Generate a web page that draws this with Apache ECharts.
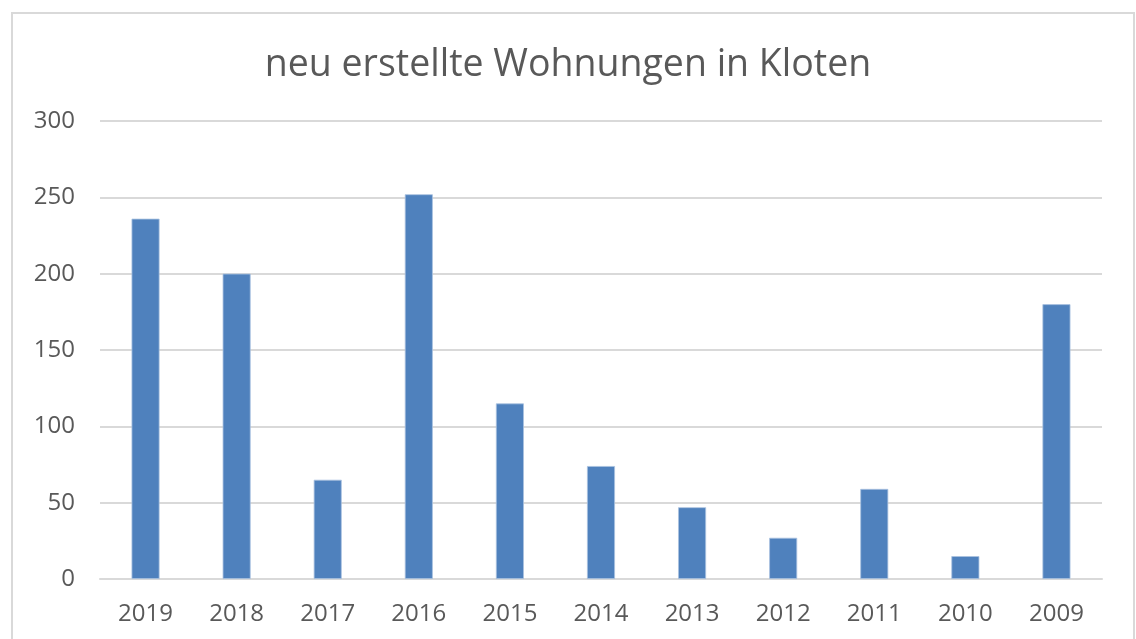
<!DOCTYPE html>
<html>
<head>
<meta charset="utf-8">
<script src="https://cdn.jsdelivr.net/npm/echarts@6/dist/echarts.min.js"></script>
<style>
html,body{margin:0;padding:0;background:#fff;}
#chart{width:1136px;height:639px;}
</style>
</head>
<body>
<div id="chart"></div>
<script>
const title = 'neu erstellte Wohnungen in Kloten';
const years = ['2019','2018','2017','2016','2015','2014','2013','2012','2011','2010','2009'];
const values = [236, 200, 65, 252, 115, 74, 47, 27, 59, 15, 180];
const yTicks = [0, 50, 100, 150, 200, 250, 300];

const chart = echarts.init(document.getElementById('chart'), null, {renderer: 'canvas'});
chart.setOption({
  animation: false,
  backgroundColor: '#ffffff',
  textStyle: {fontFamily: 'Open Sans'},
  graphic: [{
    type: 'rect',
    shape: {x: 12, y: 13, width: 1122, height: 700},
    style: {fill: 'none', stroke: '#d9d9d9', lineWidth: 2},
    silent: true, z: 100
  }],
  title: {
    text: title,
    left: 'center',
    top: 41,
    textStyle: {color: '#595959', fontSize: 37.5, fontWeight: 'normal', fontFamily: 'Open Sans'}
  },
  grid: {left: 100, right: 34, top: 121, bottom: 60, containLabel: false},
  xAxis: {
    type: 'category',
    data: years,
    axisLine: {show: true, lineStyle: {color: '#d9d9d9', width: 2}},
    axisTick: {show: false},
    axisLabel: {color: '#595959', fontSize: 24, margin: 23, fontFamily: 'Open Sans'}
  },
  yAxis: {
    type: 'value',
    min: yTicks[0],
    max: yTicks[yTicks.length - 1],
    interval: 50,
    axisLine: {show: false},
    axisTick: {show: false},
    splitLine: {lineStyle: {color: '#d9d9d9', width: 2}},
    axisLabel: {color: '#595959', fontSize: 24, margin: 25, fontFamily: 'Open Sans'}
  },
  series: [{
    type: 'bar',
    data: values,
    barWidth: 28,
    itemStyle: {color: '#4f81bd', borderColor: '#a9c1e0', borderWidth: 0.8}
  }]
});
</script>
</body>
</html>
